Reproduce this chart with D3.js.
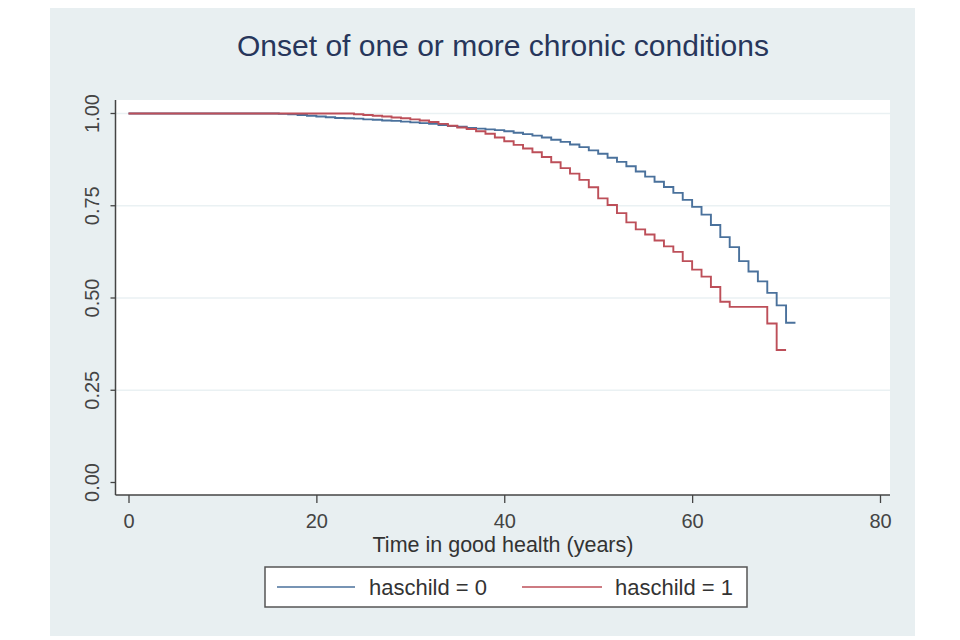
<!DOCTYPE html>
<html><head><meta charset="utf-8">
<script src="https://cdn.jsdelivr.net/npm/d3@7"></script>
<style>body{margin:0;background:#fff}svg{display:block}text{font-family:"Liberation Sans",Arial,sans-serif}</style>
</head><body>
<script>
const titleText = "Onset of one or more chronic conditions";
const xTitle = "Time in good health (years)";
const xTicks = [0, 20, 40, 60, 80];
const yTicks = [0, 0.25, 0.5, 0.75, 1];
const seriesNames = ["haschild = 0", "haschild = 1"];
const seriesColors = ["#4a719c", "#bd4f59"];
const time0 = [0,16,17,18,19,20,21,22,23,24,25,26,27,28,29,30,31,32,33,34,35,36,37,38,39,40,41,42,43,44,45,46,47,48,49,50,51,52,53,54,55,56,57,58,59,60,61,62,63,64,65,66,67,68,69,70,71];
const surv0 = [1,0.999,0.998,0.996,0.994,0.992,0.990,0.988,0.987,0.986,0.984,0.983,0.981,0.980,0.978,0.976,0.974,0.972,0.969,0.966,0.964,0.961,0.959,0.957,0.955,0.952,0.948,0.944,0.940,0.935,0.929,0.923,0.916,0.909,0.900,0.891,0.880,0.869,0.857,0.843,0.829,0.815,0.801,0.785,0.766,0.747,0.726,0.698,0.665,0.638,0.600,0.572,0.545,0.514,0.480,0.433,0.433];
const time1 = [0,24,25,26,27,28,29,30,31,32,33,34,35,36,37,38,39,40,41,42,43,44,45,46,47,48,49,50,51,52,53,54,55,56,57,58,59,60,61,62,63,64,68,69,70];
const surv1 = [1,0.998,0.996,0.994,0.992,0.989,0.987,0.984,0.981,0.977,0.972,0.967,0.962,0.958,0.952,0.945,0.935,0.925,0.915,0.905,0.895,0.882,0.868,0.852,0.837,0.820,0.800,0.770,0.752,0.730,0.705,0.686,0.672,0.656,0.640,0.625,0.600,0.577,0.558,0.530,0.490,0.476,0.431,0.359,0.359];

const W = 960, H = 640;
const svg = d3.select("body").append("svg").attr("width", W).attr("height", H);

// outer graph region
svg.append("rect").attr("x", 50).attr("y", 8).attr("width", 865).attr("height", 628).attr("fill", "#e8eff1");
// plot region
const plotL = 115.5, plotR = 890, plotT = 100, plotB = 495;
svg.append("rect").attr("x", plotL).attr("y", plotT).attr("width", plotR - plotL).attr("height", plotB - plotT).attr("fill", "#fff");

const x = d3.scaleLinear().domain([0, 80]).range([128.5, 880]);
const y = d3.scaleLinear().domain([0, 1]).range([482.5, 113.5]);

// gridlines
svg.append("g").selectAll("line").data(yTicks.filter(d => d > 0)).join("line")
  .attr("x1", plotL).attr("x2", plotR).attr("y1", d => y(d)).attr("y2", d => y(d))
  .attr("stroke", "#eaf1f3").attr("stroke-width", 1.5);

// y axis
const yAxis = d3.axisLeft(y).tickValues(yTicks).tickFormat(d3.format(".2f")).tickSizeInner(5).tickSizeOuter(0);
const gy = svg.append("g").attr("transform", `translate(${plotL},0)`).call(yAxis);
gy.select(".domain").attr("d", `M0,${plotT}V${plotB}`).attr("stroke", "#444").attr("stroke-width", 1.5);
gy.selectAll(".tick").attr("transform", null);
gy.selectAll(".tick line").attr("stroke", "#444").attr("stroke-width", 1.3)
  .attr("y1", d => y(d)).attr("y2", d => y(d)).attr("x2", -5);
gy.selectAll(".tick text").attr("font-size", 20).attr("fill", "#444")
  .attr("transform", "rotate(-90)").attr("dy", 0).attr("text-anchor", "middle")
  .attr("x", d => -y(d)).attr("y", -17);

// x axis
const xAxis = d3.axisBottom(x).tickValues(xTicks).tickFormat(d3.format("d")).tickSizeInner(8).tickSizeOuter(0);
const gx = svg.append("g").attr("transform", `translate(0,${plotB})`).call(xAxis);
gx.select(".domain").attr("d", `M${plotL},0H${plotR}`).attr("stroke", "#444").attr("stroke-width", 1.5);
gx.selectAll(".tick line").attr("stroke", "#444").attr("stroke-width", 1.3);
gx.selectAll(".tick text").attr("font-size", 20).attr("fill", "#444").attr("dy", 0).attr("y", 33);

// titles
svg.append("text").attr("x", 503).attr("y", 56).attr("text-anchor", "middle")
  .attr("font-size", 30).attr("fill", "#27365b").text(titleText);
svg.append("text").attr("x", 503).attr("y", 552).attr("text-anchor", "middle")
  .attr("font-size", 21.5).attr("fill", "#333").text(xTitle);

// survival step lines
const line = d3.line().x(d => x(d[0])).y(d => y(d[1])).curve(d3.curveStepAfter);
const series = [d3.zip(time0, surv0), d3.zip(time1, surv1)];
svg.append("g").selectAll("path").data(series).join("path")
  .attr("d", line).attr("fill", "none")
  .attr("stroke", (d, i) => seriesColors[i]).attr("stroke-width", 1.9);

// legend
const lg = svg.append("g");
lg.append("rect").attr("x", 265).attr("y", 567).attr("width", 482).attr("height", 40)
  .attr("fill", "#fff").attr("stroke", "#555").attr("stroke-width", 1.5);
const legX = [[277, 355, 369], [522, 602, 615]];
seriesNames.forEach((n, i) => {
  lg.append("line").attr("x1", legX[i][0]).attr("x2", legX[i][1]).attr("y1", 587).attr("y2", 587)
    .attr("stroke", seriesColors[i]).attr("stroke-width", 1.8).attr("opacity", 0.75);
  lg.append("text").attr("x", legX[i][2]).attr("y", 595).attr("font-size", 22).attr("fill", "#333").text(n);
});
</script>
</body></html>
